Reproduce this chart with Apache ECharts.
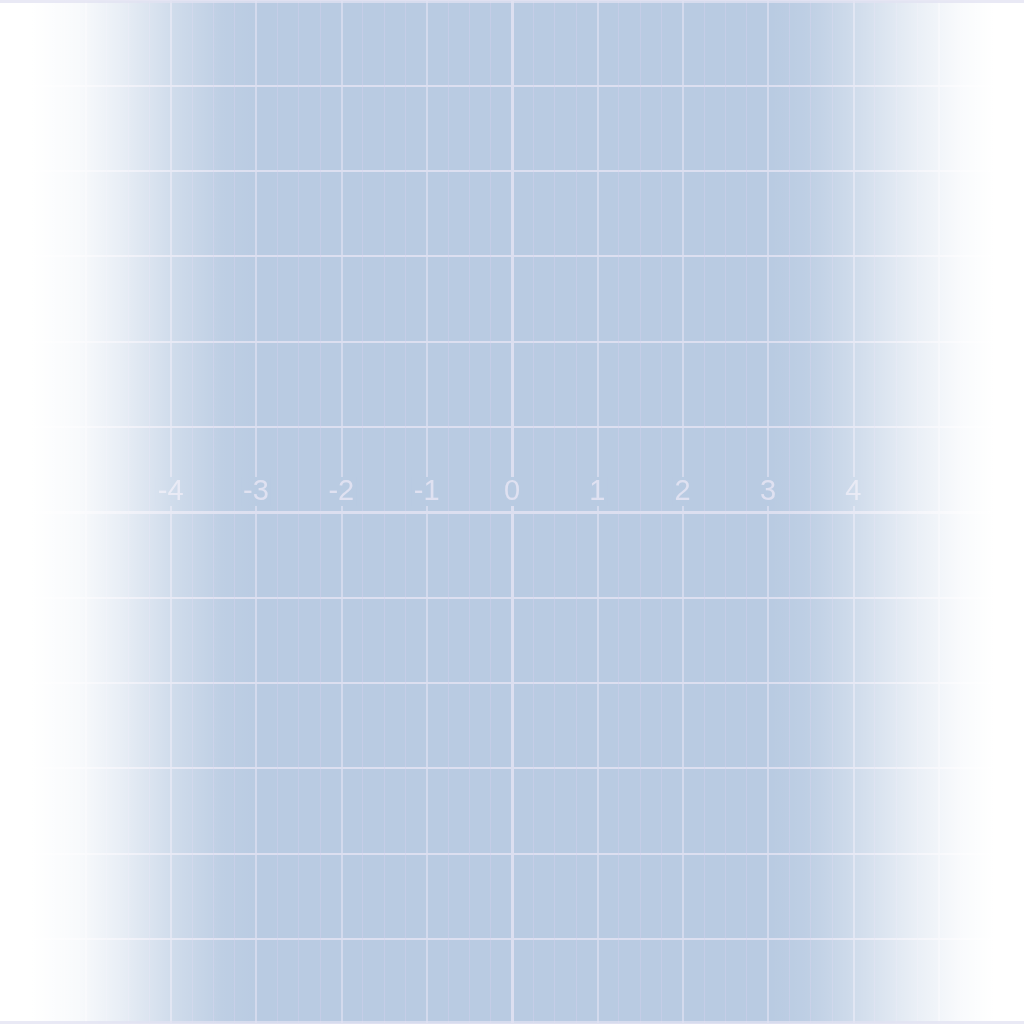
<!DOCTYPE html>
<html>
<head>
<meta charset="utf-8">
<script src="https://cdn.jsdelivr.net/npm/echarts@6/dist/echarts.min.js"></script>
<style>html,body{margin:0;padding:0;background:#fff}#main{width:1024px;height:1024px}</style>
</head>
<body>
<div id="main"></div>
<script>
// Axis extents and tick labels
const xRange = [-6, 6];
const yRange = [-6, 6];
const xTickLabels = [-4, -3, -2, -1, 0, 1, 2, 3, 4];
const seriesData = [];

const BG = '#b9cbe2';
const LINE = '#dcdff0';

const chart = echarts.init(document.getElementById('main'));
chart.setOption({
  backgroundColor: BG,
  animation: false,
  grid: { left: 0, right: 0, top: 0, bottom: 0, containLabel: false, outerBoundsMode: 'none' },
  xAxis: {
    type: 'value',
    position: 'bottom',
    offset: -512,
    min: xRange[0], max: xRange[1], interval: 1,
    axisLine: { show: true, onZero: false, lineStyle: { color: LINE, width: 3 } },
    axisTick: { show: false },
    axisLabel: {
      show: true,
      inside: true, margin: 6,
      fontSize: 29, color: '#dfe1f1',
      fontFamily: 'Liberation Sans',
      backgroundColor: BG, padding: [0, 2, 0, 2],
      hideOverlap: false,
      formatter: v => xTickLabels.indexOf(v) >= 0 ? String(v) : ''
    },
    splitLine: { show: true, lineStyle: { color: LINE, width: 1.5 } },
    minorTick: { show: false, splitNumber: 4 },
    minorSplitLine: { show: true, lineStyle: { color: 'rgba(214,208,240,0.4)', width: 1 } }
  },
  yAxis: {
    type: 'value',
    min: yRange[0], max: yRange[1], interval: 1,
    axisLine: { show: true, onZero: true, lineStyle: { color: LINE, width: 3 } },
    axisTick: { show: false },
    axisLabel: { show: false },
    splitLine: { show: true, lineStyle: { color: LINE, width: 2 } }
  },
  series: [{ type: 'line', data: seriesData, showSymbol: false }],
  graphic: [
    {
      type: 'rect', z: 100, silent: true,
      shape: { x: 0, y: 0, width: 262, height: 1024 },
      style: { fill: new echarts.graphic.LinearGradient(0, 0, 1, 0, [
        { offset: 0, color: 'rgba(255,255,255,1)' },
        { offset: 0.12, color: 'rgba(255,255,255,1)' },
        { offset: 0.3, color: 'rgba(255,255,255,0.9)' },
        { offset: 0.46, color: 'rgba(255,255,255,0.68)' },
        { offset: 0.65, color: 'rgba(255,255,255,0.34)' },
        { offset: 0.85, color: 'rgba(255,255,255,0.07)' },
        { offset: 1, color: 'rgba(255,255,255,0)' }
      ]) }
    },
    {
      type: 'rect', z: 100, silent: true,
      shape: { x: 770, y: 0, width: 254, height: 1024 },
      style: { fill: new echarts.graphic.LinearGradient(0, 0, 1, 0, [
        { offset: 0, color: 'rgba(255,255,255,0)' },
        { offset: 0.14, color: 'rgba(255,255,255,0.07)' },
        { offset: 0.33, color: 'rgba(255,255,255,0.32)' },
        { offset: 0.58, color: 'rgba(255,255,255,0.7)' },
        { offset: 0.76, color: 'rgba(255,255,255,0.92)' },
        { offset: 0.88, color: 'rgba(255,255,255,1)' },
        { offset: 1, color: 'rgba(255,255,255,1)' }
      ]) }
    },
    {
      type: 'rect', z: 101, silent: true,
      shape: { x: 0, y: 0, width: 1024, height: 3 },
      style: { fill: 'rgba(225,225,242,0.75)' }
    },
    {
      type: 'rect', z: 101, silent: true,
      shape: { x: 0, y: 1021, width: 1024, height: 3 },
      style: { fill: 'rgba(225,225,242,0.75)' }
    }
  ]
});
</script>
</body>
</html>
